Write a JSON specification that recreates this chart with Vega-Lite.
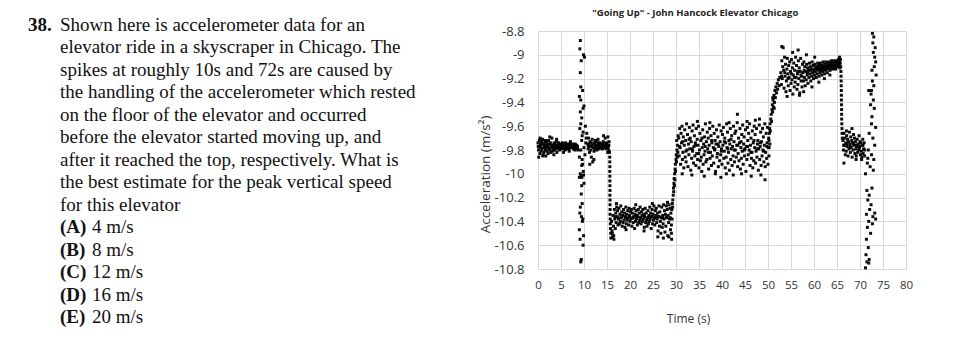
{
"$schema":"https://vega.github.io/schema/vega-lite/v6.json",
"background":"white",
"padding":{"left":0,"top":7,"right":0,"bottom":0},
"config":{"view":{"stroke":null}},
"spacing":38,
"datasets":{
"q":[
{"line":1,"col":"number","kind":"label","s":"38."},
{"line":1,"col":"body","kind":"text","s":"Shown here is accelerometer data for an"},
{"line":2,"col":"body","kind":"text","s":"elevator ride in a skyscraper in Chicago. The"},
{"line":3,"col":"body","kind":"text","s":"spikes at roughly 10s and 72s are caused by"},
{"line":4,"col":"body","kind":"text","s":"the handling of the accelerometer which rested"},
{"line":5,"col":"body","kind":"text","s":"on the floor of the elevator and occurred"},
{"line":6,"col":"body","kind":"text","s":"before the elevator started moving up, and"},
{"line":7,"col":"body","kind":"text","s":"after it reached the top, respectively. What is"},
{"line":8,"col":"body","kind":"text","s":"the best estimate for the peak vertical speed"},
{"line":9,"col":"body","kind":"text","s":"for this elevator"},
{"line":10,"col":"body","kind":"label","s":"(A)"},{"line":10,"col":"answer","kind":"text","s":"4 m/s"},
{"line":11,"col":"body","kind":"label","s":"(B)"},{"line":11,"col":"answer","kind":"text","s":"8 m/s"},
{"line":12,"col":"body","kind":"label","s":"(C)"},{"line":12,"col":"answer","kind":"text","s":"12 m/s"},
{"line":13,"col":"body","kind":"label","s":"(D)"},{"line":13,"col":"answer","kind":"text","s":"16 m/s"},
{"line":14,"col":"body","kind":"label","s":"(E)"},{"line":14,"col":"answer","kind":"text","s":"20 m/s"}
],
"acc":[
{"t":0.0,"a":-9.74},{"t":0.1,"a":-9.80},{"t":0.2,"a":-9.77},
{"t":0.3,"a":-9.72},{"t":0.4,"a":-9.83},{"t":0.5,"a":-9.78},
{"t":0.6,"a":-9.76},{"t":0.7,"a":-9.81},{"t":0.8,"a":-9.73},
{"t":0.9,"a":-9.79},{"t":1.0,"a":-9.71},{"t":1.1,"a":-9.84},
{"t":1.2,"a":-9.75},{"t":1.3,"a":-9.82},{"t":1.4,"a":-9.77},
{"t":1.5,"a":-9.73},{"t":1.6,"a":-9.80},{"t":1.7,"a":-9.85},
{"t":1.8,"a":-9.78},{"t":1.9,"a":-9.74},{"t":2.0,"a":-9.81},
{"t":2.1,"a":-9.76},{"t":2.2,"a":-9.83},{"t":2.3,"a":-9.72},
{"t":2.4,"a":-9.79},{"t":2.5,"a":-9.75},{"t":2.6,"a":-9.80},
{"t":2.7,"a":-9.74},{"t":2.8,"a":-9.82},{"t":2.9,"a":-9.77},
{"t":3.0,"a":-9.70},{"t":3.1,"a":-9.78},{"t":3.2,"a":-9.81},
{"t":3.3,"a":-9.76},{"t":3.4,"a":-9.79},{"t":3.5,"a":-9.74},
{"t":3.6,"a":-9.75},{"t":3.7,"a":-9.80},{"t":3.8,"a":-9.78},
{"t":3.9,"a":-9.77},{"t":4.0,"a":-9.73},{"t":4.1,"a":-9.82},
{"t":4.2,"a":-9.76},{"t":4.3,"a":-9.79},{"t":4.4,"a":-9.75},
{"t":4.5,"a":-9.74},{"t":4.6,"a":-9.78},{"t":4.7,"a":-9.80},
{"t":4.8,"a":-9.77},{"t":4.9,"a":-9.75},{"t":5.0,"a":-9.79},
{"t":5.1,"a":-9.76},{"t":5.2,"a":-9.78},{"t":5.3,"a":-9.74},
{"t":5.4,"a":-9.75},{"t":5.5,"a":-9.79},{"t":5.6,"a":-9.77},
{"t":5.7,"a":-9.78},{"t":5.8,"a":-9.76},{"t":5.9,"a":-9.80},
{"t":6.0,"a":-9.74},{"t":6.1,"a":-9.77},{"t":6.2,"a":-9.79},
{"t":6.3,"a":-9.76},{"t":6.4,"a":-9.78},{"t":6.5,"a":-9.75},
{"t":6.6,"a":-9.77},{"t":6.7,"a":-9.79},{"t":6.8,"a":-9.81},
{"t":6.9,"a":-9.75},{"t":7.0,"a":-9.78},{"t":7.1,"a":-9.76},
{"t":7.2,"a":-9.76},{"t":7.3,"a":-9.78},{"t":7.4,"a":-9.77},
{"t":7.5,"a":-9.77},{"t":7.6,"a":-9.75},{"t":7.7,"a":-9.79},
{"t":7.8,"a":-9.76},{"t":7.9,"a":-9.78},{"t":8.0,"a":-9.80},
{"t":8.1,"a":-9.75},{"t":8.2,"a":-9.77},{"t":8.3,"a":-9.78},
{"t":8.4,"a":-9.76},{"t":8.5,"a":-9.79},{"t":8.6,"a":-9.77},
{"t":0.15,"a":-9.86},{"t":1.05,"a":-9.85},{"t":2.55,"a":-9.69},{"t":4.05,"a":-9.71},{"t":0.45,"a":-9.70},{"t":1.65,"a":-9.72},{"t":3.45,"a":-9.84},{"t":5.55,"a":-9.82},{"t":7.05,"a":-9.73},{"t":8.55,"a":-9.78},{"t":8.7,"a":-9.80},
{"t":0.05,"a":-9.77},{"t":0.55,"a":-9.75},{"t":1.25,"a":-9.78},{"t":1.85,"a":-9.76},{"t":2.35,"a":-9.78},{"t":2.95,"a":-9.76},{"t":3.55,"a":-9.77},{"t":4.35,"a":-9.77},{"t":5.05,"a":-9.76},{"t":5.85,"a":-9.77},{"t":6.45,"a":-9.77},{"t":7.25,"a":-9.76},{"t":7.95,"a":-9.77},{"t":8.35,"a":-9.78},
{"t":9.2,"a":-8.88},{"t":9.1,"a":-8.95},{"t":9.9,"a":-9.00},{"t":10.1,"a":-9.02},{"t":9.2,"a":-9.15},{"t":9.3,"a":-9.27},{"t":9.7,"a":-9.30},{"t":9.0,"a":-9.35},{"t":9.3,"a":-9.38},{"t":10.0,"a":-9.43},{"t":9.2,"a":-9.48},{"t":9.5,"a":-9.53},{"t":9.3,"a":-9.58},{"t":10.3,"a":-9.60},{"t":9.8,"a":-9.65},{"t":9.5,"a":-9.72},{"t":10.0,"a":-9.78},{"t":9.0,"a":-9.86},{"t":9.6,"a":-9.88},{"t":9.5,"a":-9.93},{"t":9.2,"a":-10.00},{"t":9.9,"a":-10.01},{"t":9.0,"a":-10.03},{"t":9.5,"a":-10.10},{"t":9.4,"a":-10.17},{"t":9.6,"a":-10.25},{"t":9.1,"a":-10.33},{"t":9.75,"a":-10.38},{"t":9.0,"a":-10.47},{"t":9.9,"a":-10.52},{"t":9.8,"a":-10.60},{"t":9.4,"a":-10.72},{"t":9.3,"a":-10.74},
{"t":9.4,"a":-9.05},{"t":9.8,"a":-9.45},{"t":9.1,"a":-9.62},{"t":9.6,"a":-9.68},{"t":10.4,"a":-9.74},{"t":9.3,"a":-9.80},{"t":10.2,"a":-9.84},{"t":9.7,"a":-9.92},{"t":9.35,"a":-10.02},{"t":9.55,"a":-10.03},{"t":10.0,"a":-10.08},{"t":9.2,"a":-10.28},{"t":9.65,"a":-10.40},{"t":9.15,"a":-10.55},{"t":9.45,"a":-10.36},{"t":9.85,"a":-9.98},{"t":10.5,"a":-9.70},{"t":10.6,"a":-9.66},
{"t":10.8,"a":-9.75},{"t":10.9,"a":-9.79},{"t":11.0,"a":-9.70},
{"t":11.1,"a":-9.77},{"t":11.2,"a":-9.82},{"t":11.3,"a":-9.73},
{"t":11.4,"a":-9.74},{"t":11.5,"a":-9.80},{"t":11.6,"a":-9.86},
{"t":11.7,"a":-9.76},{"t":11.8,"a":-9.71},{"t":11.9,"a":-9.90},
{"t":12.0,"a":-9.78},{"t":12.1,"a":-9.74},{"t":12.2,"a":-9.81},
{"t":12.3,"a":-9.75},{"t":12.4,"a":-9.79},{"t":12.5,"a":-9.72},
{"t":12.6,"a":-9.77},{"t":12.7,"a":-9.73},{"t":12.8,"a":-9.80},
{"t":12.9,"a":-9.76},{"t":13.0,"a":-9.78},{"t":13.1,"a":-9.74},
{"t":13.2,"a":-9.75},{"t":13.3,"a":-9.79},{"t":13.4,"a":-9.77},
{"t":13.5,"a":-9.74},{"t":13.6,"a":-9.78},{"t":13.7,"a":-9.76},
{"t":13.8,"a":-9.77},{"t":13.9,"a":-9.75},{"t":14.0,"a":-9.79},
{"t":14.1,"a":-9.76},{"t":14.2,"a":-9.73},{"t":14.3,"a":-9.78},
{"t":14.4,"a":-9.75},{"t":14.5,"a":-9.77},{"t":14.6,"a":-9.70},
{"t":14.7,"a":-9.76},{"t":14.8,"a":-9.79},{"t":14.9,"a":-9.74},
{"t":15.0,"a":-9.75},{"t":15.1,"a":-9.78},{"t":15.2,"a":-9.69},
{"t":15.3,"a":-9.77},{"t":15.4,"a":-9.80},{"t":15.45,"a":-9.73},
{"t":11.25,"a":-9.92},{"t":12.15,"a":-9.88},{"t":13.05,"a":-9.71},{"t":14.25,"a":-9.68},{"t":15.15,"a":-9.82},{"t":15.4,"a":-9.76},
{"t":10.95,"a":-9.76},{"t":11.65,"a":-9.77},{"t":12.45,"a":-9.76},{"t":13.35,"a":-9.76},{"t":14.15,"a":-9.77},{"t":14.95,"a":-9.76},
{"t":15.55,"a":-9.82},{"t":15.6,"a":-9.86},{"t":15.6,"a":-9.90},{"t":15.62,"a":-9.94},{"t":15.6,"a":-9.98},{"t":15.63,"a":-10.02},{"t":15.62,"a":-10.06},{"t":15.64,"a":-10.10},{"t":15.65,"a":-10.14},{"t":15.63,"a":-10.18},{"t":15.66,"a":-10.22},{"t":15.65,"a":-10.26},{"t":15.67,"a":-10.30},{"t":15.66,"a":-10.34},{"t":15.7,"a":-10.38},{"t":15.72,"a":-10.42},{"t":15.75,"a":-10.46},{"t":15.8,"a":-10.50},{"t":15.85,"a":-10.54},
{"t":16.0,"a":-10.40},{"t":16.1,"a":-10.48},{"t":16.2,"a":-10.53},
{"t":16.3,"a":-10.35},{"t":16.4,"a":-10.44},{"t":16.5,"a":-10.55},
{"t":16.6,"a":-10.30},{"t":16.7,"a":-10.38},{"t":16.8,"a":-10.46},
{"t":16.9,"a":-10.33},{"t":17.0,"a":-10.41},{"t":17.1,"a":-10.28},
{"t":17.2,"a":-10.36},{"t":17.3,"a":-10.31},{"t":17.4,"a":-10.43},
{"t":17.5,"a":-10.38},{"t":17.6,"a":-10.29},{"t":17.7,"a":-10.42},
{"t":17.8,"a":-10.34},{"t":17.9,"a":-10.40},{"t":18.0,"a":-10.27},
{"t":18.1,"a":-10.37},{"t":18.2,"a":-10.32},{"t":18.3,"a":-10.44},
{"t":18.4,"a":-10.35},{"t":18.5,"a":-10.41},{"t":18.6,"a":-10.30},
{"t":18.7,"a":-10.39},{"t":18.8,"a":-10.33},{"t":18.9,"a":-10.45},
{"t":19.0,"a":-10.36},{"t":19.1,"a":-10.28},{"t":19.2,"a":-10.42},
{"t":19.3,"a":-10.34},{"t":19.4,"a":-10.39},{"t":19.5,"a":-10.31},
{"t":19.6,"a":-10.37},{"t":19.7,"a":-10.43},{"t":19.8,"a":-10.29},
{"t":19.9,"a":-10.35},{"t":20.0,"a":-10.40},{"t":20.1,"a":-10.32},
{"t":20.2,"a":-10.38},{"t":20.3,"a":-10.30},{"t":20.4,"a":-10.44},
{"t":20.5,"a":-10.33},{"t":20.6,"a":-10.37},{"t":20.7,"a":-10.41},
{"t":20.8,"a":-10.36},{"t":20.9,"a":-10.29},{"t":21.0,"a":-10.46},
{"t":21.1,"a":-10.34},{"t":21.2,"a":-10.40},{"t":21.3,"a":-10.31},
{"t":21.4,"a":-10.38},{"t":21.5,"a":-10.35},{"t":21.6,"a":-10.43},
{"t":21.7,"a":-10.36},{"t":21.8,"a":-10.30},{"t":21.9,"a":-10.41},
{"t":22.0,"a":-10.33},{"t":22.1,"a":-10.39},{"t":22.2,"a":-10.28},
{"t":22.3,"a":-10.37},{"t":22.4,"a":-10.42},{"t":22.5,"a":-10.32},
{"t":22.6,"a":-10.35},{"t":22.7,"a":-10.40},{"t":22.8,"a":-10.30},
{"t":22.9,"a":-10.38},{"t":23.0,"a":-10.34},{"t":23.1,"a":-10.45},
{"t":23.2,"a":-10.36},{"t":23.3,"a":-10.29},{"t":23.4,"a":-10.41},
{"t":23.5,"a":-10.33},{"t":23.6,"a":-10.39},{"t":23.7,"a":-10.44},
{"t":23.8,"a":-10.37},{"t":23.9,"a":-10.31},{"t":24.0,"a":-10.42},
{"t":24.1,"a":-10.35},{"t":24.2,"a":-10.40},{"t":24.3,"a":-10.28},
{"t":24.4,"a":-10.38},{"t":24.5,"a":-10.33},{"t":24.6,"a":-10.46},
{"t":24.7,"a":-10.36},{"t":24.8,"a":-10.30},{"t":24.9,"a":-10.42},
{"t":25.0,"a":-10.34},{"t":25.1,"a":-10.39},{"t":25.2,"a":-10.27},
{"t":25.3,"a":-10.37},{"t":25.4,"a":-10.43},{"t":25.5,"a":-10.31},
{"t":25.6,"a":-10.35},{"t":25.7,"a":-10.29},{"t":25.8,"a":-10.41},
{"t":25.9,"a":-10.38},{"t":26.0,"a":-10.33},{"t":26.1,"a":-10.48},
{"t":26.2,"a":-10.36},{"t":26.3,"a":-10.27},{"t":26.4,"a":-10.44},
{"t":26.5,"a":-10.32},{"t":26.6,"a":-10.40},{"t":26.7,"a":-10.50},
{"t":26.8,"a":-10.37},{"t":26.9,"a":-10.28},{"t":27.0,"a":-10.45},
{"t":27.1,"a":-10.35},{"t":27.2,"a":-10.42},{"t":27.3,"a":-10.26},
{"t":27.4,"a":-10.38},{"t":27.5,"a":-10.31},{"t":27.6,"a":-10.49},
{"t":27.7,"a":-10.34},{"t":27.8,"a":-10.44},{"t":27.9,"a":-10.27},
{"t":28.0,"a":-10.37},{"t":28.1,"a":-10.30},{"t":28.2,"a":-10.52},
{"t":28.3,"a":-10.35},{"t":28.4,"a":-10.41},{"t":28.5,"a":-10.26},
{"t":28.6,"a":-10.38},{"t":28.7,"a":-10.29},{"t":28.8,"a":-10.47},
{"t":28.9,"a":-10.33},{"t":29.0,"a":-10.43},{"t":29.05,"a":-10.55},
{"t":29.1,"a":-10.30},{"t":29.15,"a":-10.38},{"t":29.2,"a":-10.25},
{"t":16.15,"a":-10.50},{"t":16.45,"a":-10.52},{"t":17.05,"a":-10.25},{"t":19.15,"a":-10.47},{"t":21.25,"a":-10.26},{"t":23.05,"a":-10.48},{"t":24.85,"a":-10.25},{"t":26.05,"a":-10.53},{"t":27.25,"a":-10.54},{"t":28.45,"a":-10.53},{"t":29.0,"a":-10.50},{"t":28.15,"a":-10.24},
{"t":16.75,"a":-10.36},{"t":17.45,"a":-10.37},{"t":18.25,"a":-10.36},{"t":19.05,"a":-10.37},{"t":19.85,"a":-10.36},{"t":20.65,"a":-10.37},{"t":21.45,"a":-10.36},{"t":22.25,"a":-10.37},{"t":23.15,"a":-10.36},{"t":23.95,"a":-10.37},{"t":24.75,"a":-10.36},{"t":25.55,"a":-10.37},{"t":26.35,"a":-10.36},{"t":27.15,"a":-10.37},{"t":27.95,"a":-10.36},{"t":28.75,"a":-10.37},
{"t":29.25,"a":-10.28},{"t":29.3,"a":-10.22},{"t":29.4,"a":-10.18},{"t":29.45,"a":-10.12},{"t":29.55,"a":-10.08},{"t":29.6,"a":-10.04},{"t":29.65,"a":-10.10},{"t":29.7,"a":-10.00},{"t":29.8,"a":-9.96},{"t":29.85,"a":-9.92},{"t":29.9,"a":-9.98},{"t":30.0,"a":-9.88},{"t":30.05,"a":-9.84},{"t":30.1,"a":-9.90},{"t":30.2,"a":-9.80},{"t":30.25,"a":-9.86},{"t":30.3,"a":-9.76},{"t":30.4,"a":-9.82},{"t":29.5,"a":-10.15},{"t":29.75,"a":-10.05},{"t":30.15,"a":-9.72},{"t":30.45,"a":-9.68},
{"t":30.6,"a":-9.70},{"t":30.7,"a":-9.85},{"t":30.8,"a":-9.62},
{"t":30.9,"a":-9.78},{"t":31.0,"a":-9.92},{"t":31.1,"a":-9.66},
{"t":31.2,"a":-9.74},{"t":31.3,"a":-9.60},{"t":31.4,"a":-9.88},
{"t":31.5,"a":-9.82},{"t":31.6,"a":-9.69},{"t":31.7,"a":-9.95},
{"t":31.8,"a":-9.76},{"t":31.9,"a":-9.63},{"t":32.0,"a":-9.86},
{"t":32.1,"a":-9.72},{"t":32.2,"a":-9.90},{"t":32.3,"a":-9.58},
{"t":32.4,"a":-9.80},{"t":32.5,"a":-9.67},{"t":32.6,"a":-9.94},
{"t":32.7,"a":-9.75},{"t":32.8,"a":-9.84},{"t":32.9,"a":-9.61},
{"t":33.0,"a":-9.79},{"t":33.1,"a":-9.70},{"t":33.2,"a":-9.97},
{"t":33.3,"a":-9.73},{"t":33.4,"a":-9.87},{"t":33.5,"a":-9.64},
{"t":33.6,"a":-9.81},{"t":33.7,"a":-9.59},{"t":33.8,"a":-9.91},
{"t":33.9,"a":-9.77},{"t":34.0,"a":-9.68},{"t":34.1,"a":-9.85},
{"t":34.2,"a":-9.74},{"t":34.3,"a":-9.93},{"t":34.4,"a":-9.62},
{"t":34.5,"a":-9.83},{"t":34.6,"a":-9.71},{"t":34.7,"a":-9.88},
{"t":34.8,"a":-9.76},{"t":34.9,"a":-9.60},{"t":35.0,"a":-9.95},
{"t":35.1,"a":-9.80},{"t":35.2,"a":-9.66},{"t":35.3,"a":-9.89},
{"t":35.4,"a":-9.72},{"t":35.5,"a":-9.86},{"t":35.6,"a":-9.98},
{"t":35.7,"a":-9.78},{"t":35.8,"a":-9.63},{"t":35.9,"a":-9.92},
{"t":36.0,"a":-9.75},{"t":36.1,"a":-9.84},{"t":36.2,"a":-9.69},
{"t":36.3,"a":-9.81},{"t":36.4,"a":-9.58},{"t":36.5,"a":-9.90},
{"t":36.6,"a":-9.73},{"t":36.7,"a":-9.88},{"t":36.8,"a":-9.65},
{"t":36.9,"a":-9.79},{"t":37.0,"a":-9.70},{"t":37.1,"a":-9.96},
{"t":37.2,"a":-9.76},{"t":37.3,"a":-9.62},{"t":37.4,"a":-9.87},
{"t":37.5,"a":-9.82},{"t":37.6,"a":-9.68},{"t":37.7,"a":-9.93},
{"t":37.8,"a":-9.74},{"t":37.9,"a":-9.85},{"t":38.0,"a":-9.60},
{"t":38.1,"a":-9.78},{"t":38.2,"a":-9.91},{"t":38.3,"a":-9.66},
{"t":38.4,"a":-9.80},{"t":38.5,"a":-9.72},{"t":38.6,"a":-9.98},
{"t":38.7,"a":-9.75},{"t":38.8,"a":-9.63},{"t":38.9,"a":-9.86},
{"t":39.0,"a":-9.83},{"t":39.1,"a":-9.69},{"t":39.2,"a":-9.94},
{"t":39.3,"a":-9.77},{"t":39.4,"a":-9.59},{"t":39.5,"a":-9.89},
{"t":39.6,"a":-9.73},{"t":39.7,"a":-9.84},{"t":39.8,"a":-9.64},
{"t":39.9,"a":-9.79},{"t":40.0,"a":-9.92},{"t":40.1,"a":-9.67},
{"t":40.2,"a":-9.76},{"t":40.3,"a":-9.61},{"t":40.4,"a":-9.87},
{"t":40.5,"a":-9.81},{"t":40.6,"a":-9.70},{"t":40.7,"a":-9.95},
{"t":40.8,"a":-9.74},{"t":40.9,"a":-9.86},{"t":41.0,"a":-9.58},
{"t":41.1,"a":-9.78},{"t":41.2,"a":-9.65},{"t":41.3,"a":-9.91},
{"t":41.4,"a":-9.82},{"t":41.5,"a":-9.72},{"t":41.6,"a":-9.97},
{"t":41.7,"a":-9.75},{"t":41.8,"a":-9.62},{"t":41.9,"a":-9.88},
{"t":42.0,"a":-9.79},{"t":42.1,"a":-9.68},{"t":42.2,"a":-9.93},
{"t":42.3,"a":-9.77},{"t":42.4,"a":-9.85},{"t":42.5,"a":-9.60},
{"t":42.6,"a":-9.73},{"t":42.7,"a":-9.90},{"t":42.8,"a":-9.66},
{"t":42.9,"a":-9.80},{"t":43.0,"a":-9.64},{"t":43.1,"a":-9.86},
{"t":43.2,"a":-9.76},{"t":43.3,"a":-9.57},{"t":43.4,"a":-9.94},
{"t":43.5,"a":-9.83},{"t":43.6,"a":-9.70},{"t":43.7,"a":-9.89},
{"t":43.8,"a":-9.74},{"t":43.9,"a":-9.62},{"t":44.0,"a":-9.96},
{"t":44.1,"a":-9.78},{"t":44.2,"a":-9.87},{"t":44.3,"a":-9.67},
{"t":44.4,"a":-9.81},{"t":44.5,"a":-9.59},{"t":44.6,"a":-9.92},
{"t":44.7,"a":-9.75},{"t":44.8,"a":-9.69},{"t":44.9,"a":-9.85},
{"t":45.0,"a":-9.79},{"t":45.1,"a":-9.63},{"t":45.2,"a":-9.98},
{"t":45.3,"a":-9.77},{"t":45.4,"a":-9.88},{"t":45.5,"a":-9.61},
{"t":45.6,"a":-9.72},{"t":45.7,"a":-9.84},{"t":45.8,"a":-9.66},
{"t":45.9,"a":-9.80},{"t":46.0,"a":-9.58},{"t":46.1,"a":-9.93},
{"t":46.2,"a":-9.76},{"t":46.3,"a":-9.70},{"t":46.4,"a":-9.87},
{"t":46.5,"a":-9.82},{"t":46.6,"a":-9.64},{"t":46.7,"a":-9.95},
{"t":46.8,"a":-9.74},{"t":46.9,"a":-9.89},{"t":47.0,"a":-9.60},
{"t":47.1,"a":-9.78},{"t":47.2,"a":-9.67},{"t":47.3,"a":-9.91},
{"t":47.4,"a":-9.81},{"t":47.5,"a":-9.62},{"t":47.6,"a":-9.86},
{"t":47.7,"a":-9.75},{"t":47.8,"a":-9.72},{"t":47.9,"a":-9.97},
{"t":48.0,"a":-9.79},{"t":48.1,"a":-9.59},{"t":48.2,"a":-9.88},
{"t":48.3,"a":-9.77},{"t":48.4,"a":-9.65},{"t":48.5,"a":-9.93},
{"t":48.6,"a":-9.73},{"t":48.7,"a":-9.85},{"t":48.8,"a":-9.62},
{"t":48.9,"a":-9.80},{"t":49.0,"a":-9.69},{"t":49.1,"a":-9.90},
{"t":49.2,"a":-9.76},{"t":49.3,"a":-9.58},{"t":49.4,"a":-9.94},
{"t":49.5,"a":-9.82},{"t":49.6,"a":-9.66},{"t":49.7,"a":-9.87},
{"t":49.8,"a":-9.74},{"t":49.9,"a":-9.61},{"t":50.0,"a":-9.92},
{"t":50.1,"a":-9.78},{"t":50.15,"a":-9.70},{"t":50.2,"a":-9.85},
{"t":31.35,"a":-10.00},{"t":33.45,"a":-10.01},{"t":36.15,"a":-10.02},{"t":38.55,"a":-10.00},{"t":39.75,"a":-10.03},{"t":42.45,"a":-10.01},{"t":44.25,"a":-10.00},{"t":46.35,"a":-10.02},{"t":48.45,"a":-10.01},{"t":49.35,"a":-10.05},{"t":40.95,"a":-10.00},{"t":43.35,"a":-9.50},{"t":47.25,"a":-9.55},{"t":48.15,"a":-9.54},{"t":45.45,"a":-9.56},{"t":37.35,"a":-9.57},{"t":34.65,"a":-9.56},{"t":41.55,"a":-9.57},
{"t":30.75,"a":-9.77},{"t":31.45,"a":-9.73},{"t":32.15,"a":-9.81},{"t":32.85,"a":-9.71},{"t":33.55,"a":-9.79},{"t":34.25,"a":-9.76},{"t":34.95,"a":-9.83},{"t":35.65,"a":-9.70},{"t":36.35,"a":-9.77},{"t":37.05,"a":-9.82},{"t":37.75,"a":-9.72},{"t":38.45,"a":-9.79},{"t":39.15,"a":-9.75},{"t":39.85,"a":-9.81},{"t":40.55,"a":-9.73},{"t":41.25,"a":-9.79},{"t":41.95,"a":-9.71},{"t":42.65,"a":-9.80},{"t":43.45,"a":-9.76},{"t":44.15,"a":-9.73},{"t":44.85,"a":-9.80},{"t":45.55,"a":-9.77},{"t":46.25,"a":-9.82},{"t":46.95,"a":-9.72},{"t":47.65,"a":-9.79},{"t":48.35,"a":-9.74},{"t":49.05,"a":-9.81},{"t":49.75,"a":-9.77},
{"t":50.2,"a":-9.72},{"t":50.3,"a":-9.66},{"t":50.35,"a":-9.62},{"t":50.45,"a":-9.58},{"t":50.5,"a":-9.64},{"t":50.6,"a":-9.54},{"t":50.7,"a":-9.50},{"t":50.75,"a":-9.56},{"t":50.85,"a":-9.46},{"t":50.95,"a":-9.42},{"t":51.0,"a":-9.48},{"t":51.1,"a":-9.38},{"t":51.2,"a":-9.44},{"t":51.3,"a":-9.34},{"t":51.4,"a":-9.40},{"t":51.5,"a":-9.30},{"t":51.6,"a":-9.36},{"t":51.7,"a":-9.27},{"t":51.85,"a":-9.32},{"t":52.0,"a":-9.24},{"t":52.1,"a":-9.29},{"t":52.25,"a":-9.21},{"t":52.4,"a":-9.26},{"t":52.55,"a":-9.19},{"t":50.4,"a":-9.75},{"t":50.25,"a":-9.78},{"t":51.05,"a":-9.36},{"t":51.35,"a":-9.45},
{"t":52.8,"a":-9.15},{"t":52.9,"a":-9.25},{"t":53.0,"a":-9.05},
{"t":53.1,"a":-9.20},{"t":53.2,"a":-9.10},{"t":53.3,"a":-8.94},
{"t":53.4,"a":-9.13},{"t":53.5,"a":-9.28},{"t":53.6,"a":-9.02},
{"t":53.7,"a":-9.18},{"t":53.8,"a":-9.08},{"t":53.9,"a":-9.31},
{"t":54.0,"a":-9.22},{"t":54.1,"a":-9.12},{"t":54.2,"a":-9.03},
{"t":54.3,"a":-9.16},{"t":54.4,"a":-9.26},{"t":54.5,"a":-9.09},
{"t":54.6,"a":-9.19},{"t":54.7,"a":-9.06},{"t":54.8,"a":-9.30},
{"t":54.9,"a":-9.14},{"t":55.0,"a":-9.24},{"t":55.1,"a":-9.04},
{"t":55.2,"a":-9.21},{"t":55.3,"a":-9.11},{"t":55.4,"a":-9.33},
{"t":55.5,"a":-9.17},{"t":55.6,"a":-9.07},{"t":55.7,"a":-9.27},
{"t":55.8,"a":-9.13},{"t":55.9,"a":-9.23},{"t":56.0,"a":-9.02},
{"t":56.1,"a":-9.19},{"t":56.2,"a":-9.09},{"t":56.3,"a":-9.29},
{"t":56.4,"a":-9.16},{"t":56.5,"a":-9.25},{"t":56.6,"a":-9.05},
{"t":56.7,"a":-9.20},{"t":56.8,"a":-9.11},{"t":56.9,"a":-9.32},
{"t":57.0,"a":-9.14},{"t":57.1,"a":-9.03},{"t":57.2,"a":-9.22},
{"t":57.3,"a":-9.18},{"t":57.4,"a":-9.27},{"t":57.5,"a":-9.08},
{"t":57.6,"a":-9.15},{"t":57.7,"a":-9.22},{"t":57.8,"a":-9.06},
{"t":57.9,"a":-9.19},{"t":58.0,"a":-9.10},{"t":58.1,"a":-9.26},
{"t":58.2,"a":-9.14},{"t":58.3,"a":-9.21},{"t":58.4,"a":-9.08},
{"t":58.5,"a":-9.17},{"t":58.6,"a":-9.11},{"t":58.7,"a":-9.24},
{"t":58.8,"a":-9.13},{"t":58.9,"a":-9.19},{"t":59.0,"a":-9.07},
{"t":59.1,"a":-9.16},{"t":59.2,"a":-9.10},{"t":59.3,"a":-9.22},
{"t":59.4,"a":-9.12},{"t":59.5,"a":-9.18},{"t":59.6,"a":-9.06},
{"t":59.7,"a":-9.15},{"t":59.8,"a":-9.09},{"t":59.9,"a":-9.20},
{"t":60.0,"a":-9.13},{"t":60.1,"a":-9.17},{"t":60.2,"a":-9.08},
{"t":60.3,"a":-9.14},{"t":60.4,"a":-9.10},{"t":60.5,"a":-9.19},
{"t":60.6,"a":-9.12},{"t":60.7,"a":-9.16},{"t":60.8,"a":-9.07},
{"t":60.9,"a":-9.13},{"t":61.0,"a":-9.09},{"t":61.1,"a":-9.18},
{"t":61.2,"a":-9.11},{"t":61.3,"a":-9.15},{"t":61.4,"a":-9.07},
{"t":61.5,"a":-9.13},{"t":61.6,"a":-9.09},{"t":61.7,"a":-9.17},
{"t":61.8,"a":-9.11},{"t":61.9,"a":-9.14},{"t":62.0,"a":-9.06},
{"t":62.1,"a":-9.12},{"t":62.2,"a":-9.08},{"t":62.3,"a":-9.16},
{"t":62.4,"a":-9.10},{"t":62.5,"a":-9.13},{"t":62.6,"a":-9.06},
{"t":62.7,"a":-9.11},{"t":62.8,"a":-9.08},{"t":62.9,"a":-9.15},
{"t":63.0,"a":-9.09},{"t":63.1,"a":-9.12},{"t":63.2,"a":-9.06},
{"t":63.3,"a":-9.10},{"t":63.4,"a":-9.07},{"t":63.5,"a":-9.13},
{"t":63.6,"a":-9.09},{"t":63.7,"a":-9.11},{"t":63.8,"a":-9.05},
{"t":63.9,"a":-9.10},{"t":64.0,"a":-9.07},{"t":64.1,"a":-9.12},
{"t":64.2,"a":-9.08},{"t":64.3,"a":-9.11},{"t":64.4,"a":-9.05},
{"t":64.5,"a":-9.09},{"t":64.6,"a":-9.06},{"t":64.7,"a":-9.12},
{"t":64.8,"a":-9.08},{"t":64.9,"a":-9.10},{"t":65.0,"a":-9.05},
{"t":65.1,"a":-9.07},{"t":65.2,"a":-9.10},{"t":65.3,"a":-9.04},
{"t":65.4,"a":-9.08},{"t":65.5,"a":-9.06},{"t":65.6,"a":-9.11},
{"t":65.7,"a":-9.07},{"t":65.75,"a":-9.04},{"t":65.8,"a":-9.10},
{"t":53.0,"a":-8.93},{"t":55.35,"a":-8.98},{"t":56.55,"a":-8.96},{"t":58.35,"a":-9.00},{"t":54.15,"a":-9.35},{"t":56.85,"a":-9.34},{"t":59.55,"a":-9.27},{"t":61.05,"a":-9.23},{"t":60.15,"a":-9.02},{"t":57.75,"a":-9.31},{"t":62.25,"a":-9.20},{"t":63.45,"a":-9.17},{"t":65.55,"a":-9.02},
{"t":52.95,"a":-9.18},{"t":53.65,"a":-9.15},{"t":54.35,"a":-9.20},{"t":55.05,"a":-9.16},{"t":55.75,"a":-9.19},{"t":56.45,"a":-9.14},{"t":57.15,"a":-9.17},{"t":57.85,"a":-9.13},{"t":58.55,"a":-9.15},{"t":59.25,"a":-9.13},{"t":59.95,"a":-9.12},{"t":60.65,"a":-9.11},{"t":61.35,"a":-9.12},{"t":62.05,"a":-9.10},{"t":62.75,"a":-9.10},{"t":63.45,"a":-9.09},{"t":64.15,"a":-9.09},{"t":64.85,"a":-9.07},{"t":65.45,"a":-9.08},
{"t":65.85,"a":-9.14},{"t":65.88,"a":-9.18},{"t":65.9,"a":-9.22},{"t":65.92,"a":-9.26},{"t":65.93,"a":-9.30},{"t":65.95,"a":-9.34},{"t":65.96,"a":-9.38},{"t":65.98,"a":-9.42},{"t":66.0,"a":-9.46},{"t":66.0,"a":-9.50},{"t":66.02,"a":-9.54},{"t":66.05,"a":-9.58},{"t":66.08,"a":-9.62},{"t":66.1,"a":-9.66},{"t":66.15,"a":-9.70},
{"t":66.3,"a":-9.72},{"t":66.4,"a":-9.80},{"t":66.5,"a":-9.66},
{"t":66.6,"a":-9.76},{"t":66.7,"a":-9.70},{"t":66.8,"a":-9.84},
{"t":66.9,"a":-9.74},{"t":67.0,"a":-9.81},{"t":67.1,"a":-9.68},
{"t":67.2,"a":-9.77},{"t":67.3,"a":-9.71},{"t":67.4,"a":-9.85},
{"t":67.5,"a":-9.73},{"t":67.6,"a":-9.79},{"t":67.7,"a":-9.65},
{"t":67.8,"a":-9.75},{"t":67.9,"a":-9.82},{"t":68.0,"a":-9.69},
{"t":68.1,"a":-9.78},{"t":68.2,"a":-9.72},{"t":68.3,"a":-9.86},
{"t":68.4,"a":-9.74},{"t":68.5,"a":-9.80},{"t":68.6,"a":-9.67},
{"t":68.7,"a":-9.76},{"t":68.8,"a":-9.70},{"t":68.9,"a":-9.83},
{"t":69.0,"a":-9.73},{"t":69.1,"a":-9.79},{"t":69.2,"a":-9.85},
{"t":69.3,"a":-9.77},{"t":69.4,"a":-9.71},{"t":69.5,"a":-9.82},
{"t":69.6,"a":-9.75},{"t":69.7,"a":-9.80},{"t":69.8,"a":-9.68},
{"t":69.9,"a":-9.78},{"t":70.0,"a":-9.73},{"t":70.1,"a":-9.84},
{"t":70.2,"a":-9.74},{"t":70.3,"a":-9.81},{"t":70.4,"a":-9.86},
{"t":70.5,"a":-9.76},{"t":70.6,"a":-9.71},{"t":70.7,"a":-9.83},
{"t":70.8,"a":-9.79},{"t":70.9,"a":-9.74},{"t":71.0,"a":-9.85},
{"t":66.5,"a":-9.91},{"t":67.05,"a":-9.64},{"t":68.25,"a":-9.62},{"t":69.15,"a":-9.88},{"t":70.35,"a":-9.88},{"t":71.0,"a":-9.80},
{"t":66.45,"a":-9.76},{"t":67.15,"a":-9.75},{"t":67.85,"a":-9.77},{"t":68.55,"a":-9.75},{"t":69.25,"a":-9.76},{"t":69.95,"a":-9.77},{"t":70.65,"a":-9.76},
{"t":72.7,"a":-8.82},{"t":73.0,"a":-8.85},{"t":72.8,"a":-8.90},{"t":73.3,"a":-8.94},{"t":72.9,"a":-8.98},{"t":73.2,"a":-9.02},{"t":73.4,"a":-9.06},{"t":73.1,"a":-9.10},{"t":72.6,"a":-9.13},{"t":73.5,"a":-9.17},{"t":72.7,"a":-9.22},{"t":73.0,"a":-9.26},{"t":71.9,"a":-9.30},{"t":72.4,"a":-9.33},{"t":72.9,"a":-9.38},{"t":72.3,"a":-9.42},{"t":73.1,"a":-9.45},{"t":72.6,"a":-9.52},{"t":72.5,"a":-9.58},{"t":73.4,"a":-9.61},{"t":72.0,"a":-9.66},{"t":72.8,"a":-9.70},{"t":73.2,"a":-9.76},{"t":71.8,"a":-9.80},{"t":72.5,"a":-9.84},{"t":73.0,"a":-9.88},{"t":71.6,"a":-9.91},{"t":72.2,"a":-9.94},{"t":72.9,"a":-9.97},{"t":71.2,"a":-10.00},{"t":71.5,"a":-10.14},{"t":72.0,"a":-10.18},{"t":72.6,"a":-10.12},{"t":71.7,"a":-10.22},{"t":72.4,"a":-10.26},{"t":72.1,"a":-10.30},{"t":71.4,"a":-10.34},{"t":72.8,"a":-10.36},{"t":73.2,"a":-10.33},{"t":71.9,"a":-10.40},{"t":71.6,"a":-10.45},{"t":72.3,"a":-10.50},{"t":71.4,"a":-10.55},{"t":71.8,"a":-10.62},{"t":71.3,"a":-10.68},{"t":72.0,"a":-10.72},{"t":71.5,"a":-10.74},{"t":71.2,"a":-10.79},{"t":71.9,"a":-10.75},{"t":72.7,"a":-10.42},{"t":73.4,"a":-10.38},{"t":72.5,"a":-9.30},{"t":71.7,"a":-9.87}
]
},
"hconcat":[
{
"width":440,"height":290,
"data":{"name":"q"},
"encoding":{
"x":{"field":"col","type":"nominal","scale":{"type":"point","domain":["number","body","answer"],"range":[28,92],"padding":0},"axis":null},
"y":{"field":"line","type":"quantitative","scale":{"domain":[1,14],"range":[-6,286]},"axis":null},
"text":{"field":"s"}
},
"layer":[
{"transform":[{"filter":"datum.kind == 'label'"}],"mark":{"type":"text","align":"left","baseline":"middle","font":"Liberation Serif","fontSize":19,"fontWeight":"bold","color":"#111"}},
{"transform":[{"filter":"datum.kind == 'text'"}],"mark":{"type":"text","align":"left","baseline":"middle","font":"Liberation Serif","fontSize":19,"color":"#111"}}
]
},
{
"width":368,"height":238,
"data":{"name":"acc"},
"title":{"text":"\"Going Up\" - John Hancock Elevator Chicago","font":"Open Sans","fontSize":9.5,"fontWeight":"bold","color":"#222","offset":8,"anchor":"middle","frame":"bounds"},
"mark":{"type":"square","size":9,"color":"#000","opacity":0.95},
"encoding":{
"x":{"field":"t","type":"quantitative","scale":{"domain":[0,80],"nice":false,"zero":false},
"axis":{"values":[0,5,10,15,20,25,30,35,40,45,50,55,60,65,70,75,80],"grid":true,"gridColor":"#d9d9d9","domain":false,"ticks":false,"tickSize":0,"labelPadding":10,"labelFlush":false,"labelOverlap":false,"labelFont":"Open Sans","labelFontSize":11.5,"labelColor":"#333","title":"Time (s)","titleFont":"Open Sans","titleFontSize":12,"titleFontWeight":"normal","titleColor":"#333","titlePadding":23,"titleX":150}},
"y":{"field":"a","type":"quantitative","scale":{"domain":[-10.8,-8.8],"nice":false,"zero":false},
"axis":{"values":[-8.8,-9,-9.2,-9.4,-9.6,-9.8,-10,-10.2,-10.4,-10.6,-10.8],"labelExpr":"toString(datum.value)","grid":true,"gridColor":"#d9d9d9","domain":false,"ticks":false,"tickSize":0,"labelPadding":14,"labelOverlap":false,"labelFont":"Open Sans","labelFontSize":13,"labelColor":"#333","title":"Acceleration (m/s²)","titleFont":"Open Sans","titleFontSize":13.5,"titleFontWeight":"normal","titleColor":"#333","titlePadding":2,"titleY":143}}
}
}
]
}
